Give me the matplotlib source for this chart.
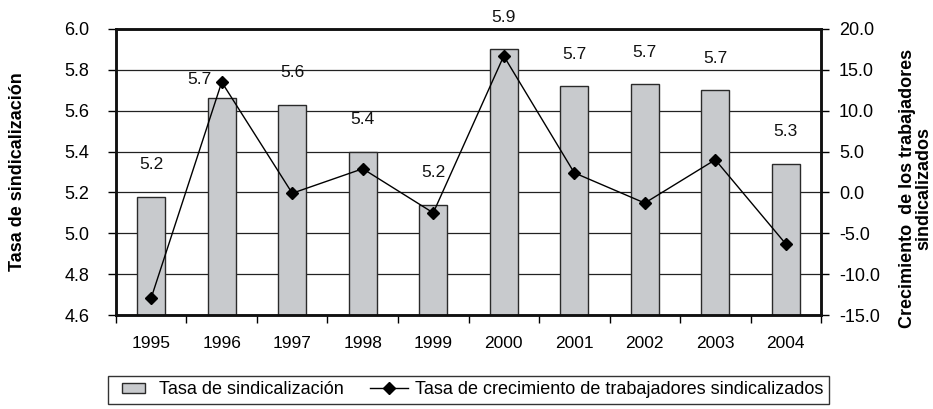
import matplotlib.pyplot as plt
import numpy as np
from matplotlib.lines import Line2D
from matplotlib.patches import Patch, Rectangle
from matplotlib.legend_handler import HandlerPatch

plt.rcParams['font.family'] = ['Liberation Sans', 'DejaVu Sans']

years = ['1995', '1996', '1997', '1998', '1999', '2000', '2001', '2002', '2003', '2004']
tasa = [5.18, 5.66, 5.63, 5.40, 5.14, 5.90, 5.72, 5.73, 5.70, 5.34]
tasa_labels = ['5.2', '5.7', '5.6', '5.4', '5.2', '5.9', '5.7', '5.7', '5.7', '5.3']
crecimiento = [-12.9, 13.5, -0.1, 2.9, -2.5, 16.7, 2.4, -1.3, 4.0, -6.3]

bar_color = '#c8cacd'
edge_color = '#2a2a2a'


def small_box(legend, orig_handle, xdescent, ydescent, width, height, fontsize):
    # narrower box than the line handle, like the original legend
    return Rectangle((-xdescent + 0.24 * width, -ydescent + 0.1 * height),
                     0.6 * width, 0.8 * height)


fig = plt.figure(figsize=(9.33, 4.09), dpi=100)
ax = fig.add_axes([0.1243, 0.2298, 0.7557, 0.6993])
ax2 = ax.twinx()

x = np.arange(len(years))
ax.bar(x, tasa, width=0.4, color=bar_color, edgecolor=edge_color, linewidth=1, zorder=2)
ax.set_ylim(4.6, 6.0)
ax.set_yticks(np.arange(4.6, 6.01, 0.2))
ax.set_yticklabels(['%.1f' % v for v in np.arange(4.6, 6.01, 0.2)])
ax.set_xlim(-0.5, len(years) - 0.5)
ax.yaxis.grid(True, color='#222222', linewidth=0.9, zorder=0)
ax.set_axisbelow(True)

# value labels above bars (1996 sits left of the marker)
for i, (v, lab) in enumerate(zip(tasa, tasa_labels)):
    off = (-22, 19) if i == 1 else (0, 32)
    ax.annotate(lab, (i, v), xytext=off, textcoords='offset pixels',
                ha='center', va='center', fontsize=12.5, color='#111111', zorder=5)

ax2.plot(x, crecimiento, color='black', linewidth=1, marker='D', markersize=6.5,
         markerfacecolor='black', zorder=4)
ax2.set_ylim(-15, 20)
ax2.set_yticks(np.arange(-15, 20.1, 5))
ax2.set_yticklabels(['%.1f' % v for v in np.arange(-15, 20.1, 5)])

# x ticks: labels at centres, tick marks at boundaries
ax.set_xticks(x)
ax.set_xticklabels(years, fontsize=12.5)
ax.tick_params(axis='x', length=0, pad=15)
ax.set_xticks(np.arange(-0.5, len(years), 1), minor=True)
ax.tick_params(axis='x', which='minor', length=6, width=1, direction='out')
ax.tick_params(axis='y', length=6, width=1, direction='out', labelsize=13, pad=13)
ax2.tick_params(axis='y', length=6, width=1, direction='out', labelsize=13, pad=7)

for a in (ax, ax2):
    for s in a.spines.values():
        s.set_linewidth(1.8)
        s.set_color('#111111')

fig.text(0.019, 0.58, 'Tasa de sindicalización', rotation=90, ha='center', va='center',
         fontsize=13, fontweight='bold')
fig.text(0.981, 0.54, 'Crecimiento  de los trabajadores\nsindicalizados', rotation=90,
         ha='center', va='center', fontsize=13, fontweight='bold', linespacing=0.95)

handles = [Patch(facecolor=bar_color, edgecolor=edge_color, linewidth=1),
           Line2D([], [], color='black', linewidth=1, marker='D', markersize=6)]
leg = fig.legend(handles, ['Tasa de sindicalización',
                           'Tasa de crecimiento de trabajadores sindicalizados'],
                 loc='upper left', bbox_to_anchor=(0.1157, 0.081), ncol=2,
                 frameon=True, fancybox=False, handlelength=2.1,
                 handletextpad=0.4, columnspacing=1.5, borderpad=0.3,
                 borderaxespad=0, fontsize=13,
                 handler_map={Patch: HandlerPatch(patch_func=small_box)})
leg.get_frame().set_edgecolor('black')
leg.get_frame().set_linewidth(1)

fig.savefig('out.png', dpi=100)
